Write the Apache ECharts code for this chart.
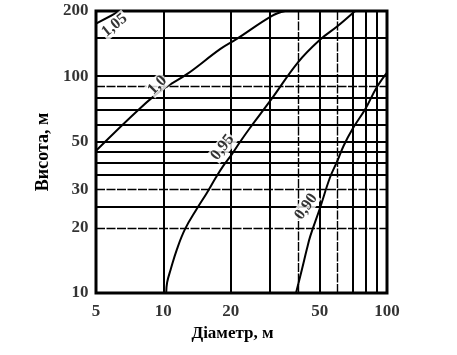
<!DOCTYPE html>
<html>
<head>
<meta charset="utf-8">
<script src="https://cdn.jsdelivr.net/npm/echarts@6/dist/echarts.min.js"></script>
<style>
html,body{margin:0;padding:0;background:#fff;}
#chart{width:457px;height:355px;}
</style>
</head>
<body>
<div id="chart"></div>
<script>
// ---- data (diameter, m ; height, m) ----
const curve105 = [[5,175],[6.4,200]];
const curve100 = [[5,45.3],[7.9,71.4],[10,87.4],[12.8,102.5],[18,133.7],[21.3,148.7],[30.6,190],[35,200]];
const curve095 = [[10.3,10],[10.4,11.2],[10.8,12.9],[11.5,15.9],[12.5,19.7],[14.1,24.4],[15.7,29.1],[17.2,34.2],[18.5,38.5],[20.2,43.5],[22.1,50],[24.2,57.1],[30.6,79],[40,116],[50,147],[60,170],[72,200]];
const curve090 = [[39.2,10],[41.7,12.9],[43.8,15.9],[45.4,18.3],[50,24.4],[55.6,34.1],[60,40.7],[64,47.8],[70,57],[80,70.6],[90,89],[100,104]];

const curveNames = ['1,05','1,0','0,95','0,90'];
const curveLabelAt = [[6.05,172],[9.4,91],[18.4,47],[43.5,25]];
const curveLabelAngle = [39,45,52,55];

const xTicks = [5,10,20,50,100];
const xTickLabels = ['5','10','20','50','100'];
const yTicks = [10,20,30,50,100,200];
const yTickLabels = ['10','20','30','50','100','200'];

const xGrid = [10,20,30,40,50,60,70,80,90];
const xGridThin = [40,60];
const yGrid = [20,25,30,35,40,45,50,60,70,80,90,100,150];
const yGridThin = [20,30,90];

const xName = 'Діаметр, м';
const yName = 'Висота, м';

// ---- chart ----
const FONT = '"Liberation Serif", "Times New Roman", serif';
const chart = echarts.init(document.getElementById('chart'), null, {renderer:'canvas'});

const boldLine = {color:'#000', width:2, type:'solid'};
const thinLine = {color:'#000', width:1.4, type:[9,1.5]};

const gridMarks = [];
xGrid.forEach(v => gridMarks.push({xAxis: v, lineStyle: xGridThin.includes(v) ? thinLine : boldLine}));
yGrid.forEach(v => gridMarks.push({yAxis: v, lineStyle: yGridThin.includes(v) ? thinLine : boldLine}));

function curveSeries(data, extra){
  return Object.assign({
    type:'line', data:data, showSymbol:false, symbol:'none', smooth:0.4,
    lineStyle:{color:'#000', width:2}, animation:false, silent:true, z:5
  }, extra||{});
}

const option = {
  backgroundColor:'#fff',
  animation:false,
  grid:{left:96, top:11, width:291, height:282, show:true, borderColor:'#000', borderWidth:3, backgroundColor:'transparent'},
  xAxis:{
    type:'log', logBase:10, min:5, max:100,
    axisLine:{show:false}, axisTick:{show:false}, axisLabel:{show:false}, splitLine:{show:false},
    name:xName, nameLocation:'middle', nameGap:32,
    nameTextStyle:{fontFamily:FONT, fontSize:17, fontWeight:'bold', color:'#000', padding:[0,18,0,0]}
  },
  yAxis:{
    type:'log', logBase:10, min:10, max:200,
    axisLine:{show:false}, axisTick:{show:false}, axisLabel:{show:false}, splitLine:{show:false},
    name:yName, nameLocation:'middle', nameGap:44,
    nameTextStyle:{fontFamily:FONT, fontSize:18, fontWeight:'bold', color:'#000'}
  },
  series:[
    curveSeries(curve100, {
      markLine:{silent:true, symbol:['none','none'], label:{show:false}, animation:false, data:gridMarks, z:1}
    }),
    curveSeries(curve105),
    curveSeries(curve095),
    curveSeries(curve090),
    {
      type:'scatter', silent:true, clip:false, symbolSize:1, itemStyle:{color:'rgba(0,0,0,0)'},
      data: xTicks.map((v,i)=>({value:[v,10], label:{formatter:xTickLabels[i]}})),
      label:{show:true, position:'bottom', distance:10, fontFamily:FONT, fontSize:17, fontWeight:'bold', color:'#000'}
    },
    {
      type:'scatter', silent:true, clip:false, symbolSize:1, itemStyle:{color:'rgba(0,0,0,0)'},
      data: yTicks.map((v,i)=>({value:[5,v], label:{formatter:yTickLabels[i]}})),
      label:{show:true, position:'left', distance:7, fontFamily:FONT, fontSize:17, fontWeight:'bold', color:'#000'}
    },
    {
      type:'scatter', silent:true, clip:false, symbolSize:1, itemStyle:{color:'rgba(0,0,0,0)'}, z:6,
      data: curveLabelAt.map((p,i)=>({value:p, label:{formatter:curveNames[i], rotate:curveLabelAngle[i]}})),
      label:{show:true, position:'inside', fontFamily:FONT, fontSize:16, fontWeight:'bold', color:'#000',
             backgroundColor:'#fff', padding:[0,1,0,1]}
    }
  ]
};
chart.setOption(option);
</script>
</body>
</html>
